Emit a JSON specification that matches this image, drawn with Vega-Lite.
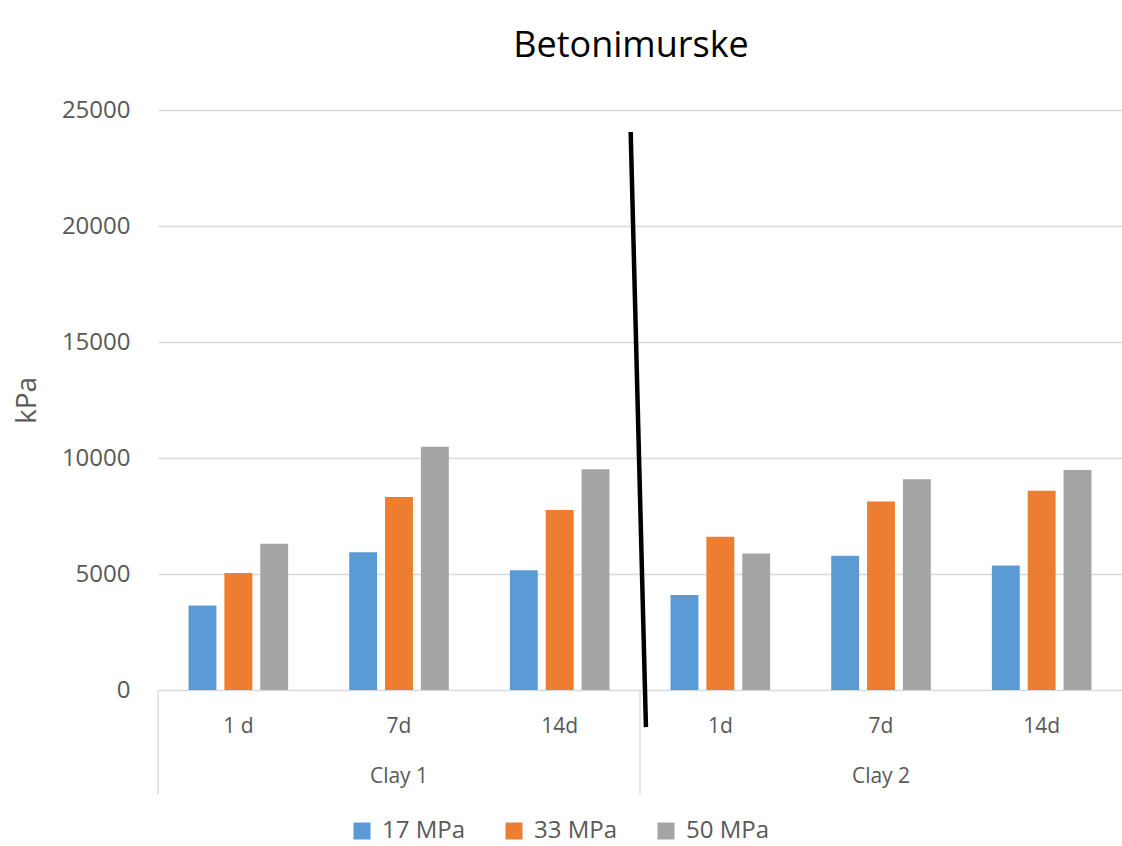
{
  "$schema": "https://vega.github.io/schema/vega-lite/v6.json",
  "width": 964,
  "height": 580,
  "autosize": "none",
  "padding": {"left": 158, "top": 110, "right": 0, "bottom": 156},
  "background": "white",
  "config": {
    "font": "Open Sans",
    "view": {"stroke": null}
  },
  "title": {
    "text": "Betonimurske",
    "fontSize": 36,
    "fontWeight": "normal",
    "color": "#000000",
    "anchor": "middle",
    "dx": -9,
    "offset": 33
  },
  "datasets": {
    "bars": [
      {"cat": "C1|1 d", "series": "17 MPa", "value": 3640},
      {"cat": "C1|1 d", "series": "33 MPa", "value": 5040},
      {"cat": "C1|1 d", "series": "50 MPa", "value": 6300},
      {"cat": "C1|7d", "series": "17 MPa", "value": 5940},
      {"cat": "C1|7d", "series": "33 MPa", "value": 8320},
      {"cat": "C1|7d", "series": "50 MPa", "value": 10490},
      {"cat": "C1|14d", "series": "17 MPa", "value": 5160},
      {"cat": "C1|14d", "series": "33 MPa", "value": 7760},
      {"cat": "C1|14d", "series": "50 MPa", "value": 9510},
      {"cat": "C2|1d", "series": "17 MPa", "value": 4100},
      {"cat": "C2|1d", "series": "33 MPa", "value": 6610},
      {"cat": "C2|1d", "series": "50 MPa", "value": 5880},
      {"cat": "C2|7d", "series": "17 MPa", "value": 5790},
      {"cat": "C2|7d", "series": "33 MPa", "value": 8130},
      {"cat": "C2|7d", "series": "50 MPa", "value": 9080},
      {"cat": "C2|14d", "series": "17 MPa", "value": 5370},
      {"cat": "C2|14d", "series": "33 MPa", "value": 8590},
      {"cat": "C2|14d", "series": "50 MPa", "value": 9480}
    ],
    "groups": [
      {"group": "Clay 1", "value": 0, "value2": -4500},
      {"group": "Clay 2", "value": 0, "value2": -4500}
    ],
    "stroke": [
      {"pos": 2.942, "value": 24050},
      {"pos": 3.037, "value": -1600}
    ]
  },
  "layer": [
    {
      "data": {"name": "bars"},
      "mark": {"type": "bar"},
      "encoding": {
        "x": {
          "field": "cat",
          "type": "nominal",
          "sort": null,
          "scale": {"paddingInner": 0.38, "paddingOuter": 0.19},
          "axis": {
            "title": null,
            "orient": "bottom",
            "labelExpr": "split(datum.value, '|')[1]",
            "labelAngle": 0,
            "labelFontSize": 21,
            "labelColor": "#595959",
            "labelPadding": 25,
            "ticks": false,
            "domain": false,
            "grid": false
          }
        },
        "xOffset": {"field": "series", "type": "nominal", "scale": {"paddingInner": 0.222}},
        "y": {
          "field": "value",
          "type": "quantitative",
          "title": "kPa",
          "scale": {"domain": [0, 25000], "nice": false, "zero": false},
          "axis": {
            "values": [0, 5000, 10000, 15000, 20000, 25000],
            "format": "d",
            "labelFontSize": 24,
            "labelColor": "#595959",
            "labelPadding": 28,
            "ticks": false,
            "domain": false,
            "gridColor": "#d9d9d9",
            "gridWidth": 1.3,
            "titleFontSize": 28,
            "titleFontWeight": "normal",
            "titleColor": "#595959",
            "titlePadding": 20
          }
        },
        "color": {
          "field": "series",
          "type": "nominal",
          "scale": {"domain": ["17 MPa", "33 MPa", "50 MPa"], "range": ["#5B9BD5", "#ED7D31", "#A5A5A5"]},
          "legend": {
            "title": null,
            "orient": "none",
            "legendX": 192,
            "legendY": 709,
            "direction": "horizontal",
            "columns": 3,
            "symbolType": "square",
            "symbolSize": 289,
            "symbolStrokeWidth": 0,
            "labelFontSize": 24,
            "labelColor": "#595959",
            "labelOffset": 8,
            "columnPadding": 36,
            "padding": 0
          }
        }
      }
    },
    {
      "data": {"name": "groups"},
      "mark": {"type": "rule", "color": "#d9d9d9", "strokeWidth": 1.3},
      "encoding": {
        "x": {
          "field": "group",
          "type": "nominal",
          "bandPosition": 0,
          "scale": {"paddingInner": 0, "paddingOuter": 0},
          "axis": {
            "title": null,
            "orient": "bottom",
            "labelAngle": 0,
            "labelFontSize": 21,
            "labelColor": "#595959",
            "labelPadding": 75,
            "ticks": false,
            "domain": false,
            "grid": false
          }
        },
        "y": {"field": "value", "type": "quantitative", "title": "kPa"},
        "y2": {"field": "value2"}
      }
    },
    {
      "data": {"name": "stroke"},
      "mark": {"type": "line", "color": "#000000", "strokeWidth": 4.5},
      "encoding": {
        "x": {
          "field": "pos",
          "type": "quantitative",
          "scale": {"domain": [0, 6], "nice": false, "zero": false},
          "axis": null
        },
        "y": {"field": "value", "type": "quantitative", "title": "kPa"}
      }
    }
  ],
  "resolve": {"scale": {"x": "independent"}}
}
